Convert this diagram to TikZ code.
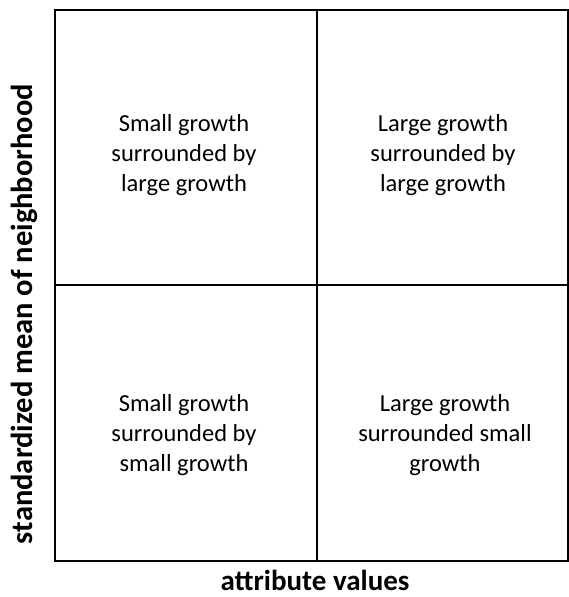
\documentclass[tikz,border=0pt]{standalone}
\usepackage{fontspec}
\setmainfont{Carlito}
\begin{document}
\begin{tikzpicture}[x=1pt,y=-1pt,
  quad/.style={align=center,font=\fontsize{24.5}{30}\selectfont},
  axis/.style={font=\bfseries\fontsize{30.5}{34}\selectfont,inner sep=0pt},
  frame/.style={line width=2pt}]
\useasboundingbox (0,0) rectangle (569,597);
\coordinate (tl) at (55,10);
\coordinate (br) at (568,561);
\coordinate (tm) at (317,10);
\coordinate (bm) at (317,561);
\coordinate (lm) at (55,285);
\coordinate (rm) at (568,285);
\draw[frame] (tl) rectangle (br);
\draw[frame] (tm) -- (bm);
\draw[frame] (lm) -- (rm);
\node[quad] (q1) at (184,155) {Small growth\\surrounded by\\large growth};
\node[quad] (q2) at (443,155) {Large growth\\surrounded by\\large growth};
\node[quad] (q3) at (184,435) {Small growth\\surrounded by\\small growth};
\node[quad] (q4) at (445,435) {Large growth\\surrounded small\\growth};
\node[axis,font=\bfseries\fontsize{29}{32}\selectfont] (xl) at (315,580) {attribute values};
\node[axis,rotate=90] (yl) at (24,314) {standardized mean of neighborhood};
\end{tikzpicture}
\end{document}
